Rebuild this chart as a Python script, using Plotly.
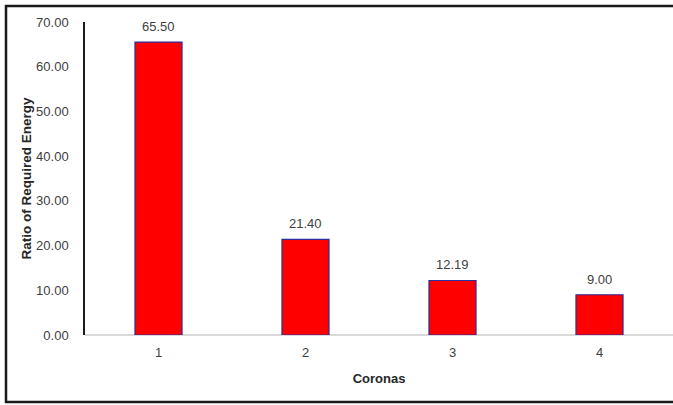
import plotly.graph_objects as go

# Ratio of required energy per corona
coronas = ["1", "2", "3", "4"]
ratios = [65.50, 21.40, 12.19, 9.00]
y_ticks = [0, 10, 20, 30, 40, 50, 60, 70]
y_tick_text = [f"{v:.2f}" for v in y_ticks]

W, H = 673, 405
ML, MR, MT, MB = 85, 0, 22, 70
pw = W - ML - MR
ph = H - MT - MB

font_family = "Liberation Sans, Arial, sans-serif"
label_color = "#404040"

fig = go.Figure()
fig.add_trace(go.Bar(
    x=coronas,
    y=ratios,
    width=0.32,
    marker=dict(color="#ff0000", line=dict(color="#2e2e9a", width=1.2)),
    hoverinfo="x+y",
))

# value labels above each bar (category axis: position by index)
for i, v in enumerate(ratios):
    fig.add_annotation(
        x=i, y=v, xref="x", yref="y", text=f"{v:.2f}", showarrow=False,
        yanchor="bottom", yshift=6,
        font=dict(family=font_family, size=13, color=label_color),
    )

# outer chart border
def px_x(px):
    return (px - ML) / pw

def px_y(py):
    return (H - MB - py) / ph

fig.add_shape(
    type="rect", xref="paper", yref="paper",
    x0=px_x(6), x1=px_x(690), y0=px_y(402), y1=px_y(6),
    line=dict(color="#1a1a1a", width=2.5), fillcolor="rgba(0,0,0,0)",
    layer="below",
)

fig.update_layout(
    width=W, height=H,
    margin=dict(l=ML, r=MR, t=MT, b=MB),
    paper_bgcolor="white", plot_bgcolor="white",
    showlegend=False,
    font=dict(family=font_family, size=13, color=label_color),
    xaxis=dict(
        type="category",
        range=[-0.5, 3.5],
        showgrid=False,
        showline=False,
        zeroline=False,
        ticks="",
        tickfont=dict(size=13, color=label_color),
        ticklabelstandoff=8,
        title=dict(text="<b>Coronas</b>", font=dict(size=13, color="#262626"), standoff=14),
    ),
    yaxis=dict(
        range=[0, 70],
        tickvals=y_ticks,
        ticktext=y_tick_text,
        showgrid=False,
        zeroline=True,
        zerolinecolor="#d9d9d9",
        zerolinewidth=1.5,
        showline=True,
        linecolor="#1a1a1a",
        linewidth=1.5,
        ticks="",
        tickfont=dict(size=13, color=label_color),
        ticklabelstandoff=12,
        title=dict(text="<b>Ratio of Required Energy</b>", font=dict(size=13.5, color="#262626"), standoff=1),
    ),
)

fig.write_html("out.html")
